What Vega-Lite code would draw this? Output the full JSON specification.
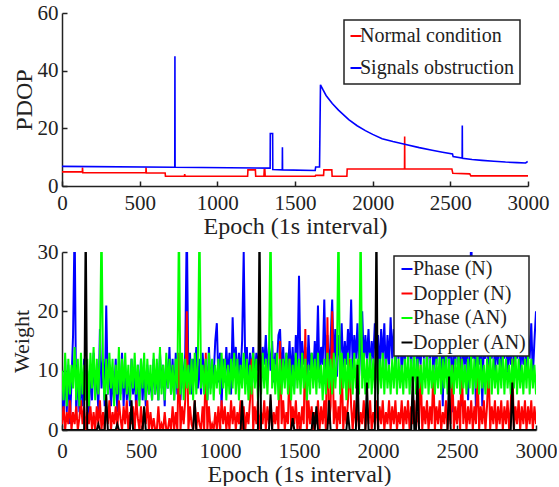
{
  "$schema": "https://vega.github.io/schema/vega-lite/v6.json",
  "padding": {"left": 10, "top": 2, "right": 0, "bottom": 0},
  "resolve": {"scale": {"color": "independent", "x": "independent", "y": "independent"}, "legend": {"color": "independent"}},
  "config": {
    "font": "Liberation Serif",
    "view": {"stroke": null},
    "concat": {"spacing": 3},
    "axis": {
      "grid": false,
      "domainColor": "#222222",
      "domainWidth": 1.5,
      "tickColor": "#222222",
      "tickWidth": 1.5,
      "tickSize": -5,
      "labelFont": "Liberation Serif",
      "labelFontSize": 21,
      "labelColor": "#222222",
      "labelFlush": false,
      "labelOverlap": false,
      "titleFont": "Liberation Serif",
      "titleFontSize": 24,
      "titleFontWeight": "normal",
      "titleColor": "#222222",
      "format": "d"
    },
    "legend": {
      "title": null,
      "symbolType": "stroke",
      "symbolSize": 121,
      "symbolStrokeWidth": 2,
      "labelFont": "Liberation Serif",
      "labelFontSize": 20,
      "labelColor": "#222222",
      "strokeColor": "#222222",
      "strokeWidth": 1.5,
      "fillColor": "white"
    }
  },
  "vconcat": [
    {
      "width": 466,
      "height": 173,
      "data": {
        "values": [
          {"e": 0, "s": "Normal condition", "v": 4.9},
          {"e": 131, "s": "Normal condition", "v": 4.9},
          {"e": 132, "s": "Normal condition", "v": 6.4},
          {"e": 134, "s": "Normal condition", "v": 4.6},
          {"e": 540, "s": "Normal condition", "v": 4.6},
          {"e": 541, "s": "Normal condition", "v": 6.4},
          {"e": 543, "s": "Normal condition", "v": 4.5},
          {"e": 664, "s": "Normal condition", "v": 4.5},
          {"e": 666, "s": "Normal condition", "v": 3.4},
          {"e": 788, "s": "Normal condition", "v": 3.4},
          {"e": 790, "s": "Normal condition", "v": 4.1},
          {"e": 792, "s": "Normal condition", "v": 3.4},
          {"e": 1195, "s": "Normal condition", "v": 3.4},
          {"e": 1197, "s": "Normal condition", "v": 5.6},
          {"e": 1245, "s": "Normal condition", "v": 5.6},
          {"e": 1247, "s": "Normal condition", "v": 3.4},
          {"e": 1300, "s": "Normal condition", "v": 3.4},
          {"e": 1302, "s": "Normal condition", "v": 5.6},
          {"e": 1306, "s": "Normal condition", "v": 5.6},
          {"e": 1308, "s": "Normal condition", "v": 3.4},
          {"e": 1630, "s": "Normal condition", "v": 3.4},
          {"e": 1633, "s": "Normal condition", "v": 3.7},
          {"e": 1684, "s": "Normal condition", "v": 3.7},
          {"e": 1686, "s": "Normal condition", "v": 5.6},
          {"e": 1737, "s": "Normal condition", "v": 5.6},
          {"e": 1739, "s": "Normal condition", "v": 3.4},
          {"e": 1834, "s": "Normal condition", "v": 3.4},
          {"e": 1836, "s": "Normal condition", "v": 5.9},
          {"e": 2205, "s": "Normal condition", "v": 5.9},
          {"e": 2206, "s": "Normal condition", "v": 17.2},
          {"e": 2207, "s": "Normal condition", "v": 5.9},
          {"e": 2510, "s": "Normal condition", "v": 5.9},
          {"e": 2516, "s": "Normal condition", "v": 4.4},
          {"e": 2625, "s": "Normal condition", "v": 4.2},
          {"e": 2632, "s": "Normal condition", "v": 3.5},
          {"e": 3000, "s": "Normal condition", "v": 3.5},
          {"e": 0, "s": "Signals obstruction", "v": 6.8},
          {"e": 726, "s": "Signals obstruction", "v": 6.5},
          {"e": 727, "s": "Signals obstruction", "v": 45},
          {"e": 728, "s": "Signals obstruction", "v": 6.5},
          {"e": 1340, "s": "Signals obstruction", "v": 6.2},
          {"e": 1341, "s": "Signals obstruction", "v": 18.2},
          {"e": 1356, "s": "Signals obstruction", "v": 18.2},
          {"e": 1357, "s": "Signals obstruction", "v": 5.7},
          {"e": 1418, "s": "Signals obstruction", "v": 5.6},
          {"e": 1419, "s": "Signals obstruction", "v": 13.4},
          {"e": 1420, "s": "Signals obstruction", "v": 5.6},
          {"e": 1630, "s": "Signals obstruction", "v": 5.4},
          {"e": 1633, "s": "Signals obstruction", "v": 6.6},
          {"e": 1658, "s": "Signals obstruction", "v": 6.6},
          {"e": 1664, "s": "Signals obstruction", "v": 35.1},
          {"e": 1680, "s": "Signals obstruction", "v": 33.4},
          {"e": 1700, "s": "Signals obstruction", "v": 31.4},
          {"e": 1740, "s": "Signals obstruction", "v": 28.6},
          {"e": 1780, "s": "Signals obstruction", "v": 26.3},
          {"e": 1846, "s": "Signals obstruction", "v": 23.0},
          {"e": 1900, "s": "Signals obstruction", "v": 20.9},
          {"e": 1953, "s": "Signals obstruction", "v": 19.2},
          {"e": 2000, "s": "Signals obstruction", "v": 17.9},
          {"e": 2061, "s": "Signals obstruction", "v": 16.4},
          {"e": 2130, "s": "Signals obstruction", "v": 15.4},
          {"e": 2206, "s": "Signals obstruction", "v": 14.5},
          {"e": 2300, "s": "Signals obstruction", "v": 13.3},
          {"e": 2383, "s": "Signals obstruction", "v": 12.4},
          {"e": 2450, "s": "Signals obstruction", "v": 11.7},
          {"e": 2514, "s": "Signals obstruction", "v": 11.1},
          {"e": 2518, "s": "Signals obstruction", "v": 10.2},
          {"e": 2576, "s": "Signals obstruction", "v": 9.7},
          {"e": 2577, "s": "Signals obstruction", "v": 21},
          {"e": 2578, "s": "Signals obstruction", "v": 9.6},
          {"e": 2640, "s": "Signals obstruction", "v": 9.2},
          {"e": 2704, "s": "Signals obstruction", "v": 8.9},
          {"e": 2780, "s": "Signals obstruction", "v": 8.6},
          {"e": 2855, "s": "Signals obstruction", "v": 8.3},
          {"e": 2930, "s": "Signals obstruction", "v": 8.1},
          {"e": 2985, "s": "Signals obstruction", "v": 8.0},
          {"e": 2998, "s": "Signals obstruction", "v": 8.5}
        ]
      },
      "mark": {"type": "line", "strokeWidth": 1.6, "clip": true},
      "encoding": {
        "x": {
          "field": "e", "type": "quantitative",
          "scale": {"domain": [0, 3000], "nice": false},
          "axis": {"values": [0, 500, 1000, 1500, 2000, 2500, 3000], "title": "Epoch (1s interval)", "labelPadding": 11, "titlePadding": 1}
        },
        "y": {
          "field": "v", "type": "quantitative",
          "scale": {"domain": [0, 60], "nice": false},
          "axis": {"values": [0, 20, 40, 60], "title": "PDOP", "labelPadding": 9, "titlePadding": 1}
        },
        "color": {
          "field": "s", "type": "nominal",
          "scale": {"domain": ["Normal condition", "Signals obstruction"], "range": ["#ff0000", "#0000ff"]},
          "legend": {"orient": "none", "legendX": 282, "legendY": 7, "padding": 6, "rowPadding": 12, "symbolOffset": -4, "labelOffset": -6}
        }
      }
    },
    {
      "width": 474,
      "height": 178,
      "data": {
        "values": [
          {"e":0,"p":9,"d":1,"g":10,"k":0},{"e":10,"p":2,"d":4,"g":5,"k":0},{"e":20,"p":12,"d":0,"g":13,"k":0},{"e":30,"p":3,"d":3,"g":4,"k":0},{"e":40,"p":11,"d":1,"g":12,"k":0},
          {"e":50,"p":1,"d":5,"g":6,"k":0},{"e":60,"p":8,"d":0,"g":11,"k":0},{"e":70,"p":16,"d":3,"g":7,"k":0},{"e":80,"p":35,"d":1,"g":14,"k":0},{"e":90,"p":2,"d":4,"g":5,"k":0},
          {"e":100,"p":11,"d":0,"g":12,"k":0},{"e":110,"p":3,"d":2,"g":4,"k":0},{"e":120,"p":9,"d":5,"g":13,"k":0},{"e":130,"p":4,"d":1,"g":6,"k":0},{"e":140,"p":12,"d":4,"g":11,"k":0},
          {"e":150,"p":6,"d":0,"g":5,"k":35},{"e":160,"p":10,"d":3,"g":12,"k":0},{"e":170,"p":2,"d":1,"g":4,"k":0},{"e":180,"p":11,"d":4,"g":13,"k":0},{"e":190,"p":5,"d":0,"g":7,"k":0},
          {"e":200,"p":13,"d":3,"g":14,"k":0},{"e":210,"p":6,"d":0,"g":5,"k":0},{"e":220,"p":10,"d":4,"g":12,"k":0},{"e":230,"p":3,"d":1,"g":6,"k":1},{"e":240,"p":17,"d":5,"g":13,"k":0},
          {"e":250,"p":7,"d":0,"g":35,"k":0},{"e":260,"p":12,"d":3,"g":9,"k":0},{"e":270,"p":4,"d":0,"g":5,"k":0},{"e":280,"p":21,"d":4,"g":12,"k":6},{"e":290,"p":6,"d":1,"g":6,"k":0},
          {"e":300,"p":11,"d":5,"g":13,"k":0},{"e":310,"p":4,"d":0,"g":7,"k":0},{"e":320,"p":9,"d":3,"g":12,"k":0},{"e":330,"p":5,"d":1,"g":4,"k":0},{"e":340,"p":12,"d":4,"g":11,"k":0},
          {"e":350,"p":3,"d":0,"g":6,"k":1},{"e":360,"p":10,"d":5,"g":14,"k":0},{"e":370,"p":6,"d":2,"g":5,"k":0},{"e":380,"p":13,"d":0,"g":12,"k":0},{"e":390,"p":4,"d":4,"g":7,"k":0},
          {"e":400,"p":11,"d":1,"g":13,"k":0},{"e":410,"p":5,"d":5,"g":6,"k":0},{"e":420,"p":9,"d":0,"g":11,"k":0},{"e":430,"p":4,"d":3,"g":5,"k":0},{"e":440,"p":12,"d":1,"g":12,"k":5},
          {"e":450,"p":6,"d":4,"g":7,"k":0},{"e":460,"p":10,"d":0,"g":13,"k":0},{"e":470,"p":3,"d":5,"g":6,"k":0},{"e":480,"p":11,"d":2,"g":11,"k":0},{"e":490,"p":5,"d":0,"g":4,"k":0},
          {"e":500,"p":12,"d":4,"g":12,"k":0},{"e":510,"p":5,"d":0,"g":7,"k":0},{"e":520,"p":10,"d":3,"g":13,"k":4},{"e":530,"p":4,"d":1,"g":5,"k":0},{"e":540,"p":11,"d":5,"g":12,"k":0},
          {"e":550,"p":6,"d":0,"g":6,"k":0},{"e":560,"p":9,"d":3,"g":11,"k":0},{"e":570,"p":5,"d":0,"g":5,"k":0},{"e":580,"p":12,"d":2,"g":13,"k":0},{"e":590,"p":6,"d":0,"g":6,"k":0},
          {"e":600,"p":10,"d":0,"g":12,"k":0},{"e":610,"p":5,"d":4,"g":5,"k":0},{"e":620,"p":13,"d":0,"g":14,"k":0},{"e":630,"p":7,"d":1,"g":6,"k":0},{"e":640,"p":11,"d":0,"g":11,"k":0},
          {"e":650,"p":4,"d":3,"g":5,"k":0},{"e":660,"p":12,"d":0,"g":13,"k":0},{"e":670,"p":7,"d":0,"g":7,"k":0},{"e":680,"p":14,"d":2,"g":12,"k":0},{"e":690,"p":6,"d":0,"g":6,"k":0},
          {"e":700,"p":12,"d":4,"g":11,"k":0},{"e":710,"p":5,"d":0,"g":5,"k":0},{"e":720,"p":13,"d":3,"g":12,"k":0},{"e":730,"p":6,"d":0,"g":7,"k":0},{"e":740,"p":11,"d":13,"g":35,"k":0},
          {"e":750,"p":5,"d":0,"g":6,"k":0},{"e":760,"p":12,"d":4,"g":13,"k":0},{"e":770,"p":7,"d":1,"g":5,"k":0},{"e":780,"p":13,"d":5,"g":12,"k":0},{"e":790,"p":35,"d":20,"g":7,"k":0},
          {"e":800,"p":8,"d":0,"g":11,"k":0},{"e":810,"p":13,"d":4,"g":6,"k":0},{"e":820,"p":6,"d":1,"g":12,"k":0},{"e":830,"p":12,"d":0,"g":5,"k":0},{"e":840,"p":9,"d":5,"g":13,"k":5},
          {"e":850,"p":14,"d":0,"g":6,"k":0},{"e":860,"p":7,"d":3,"g":12,"k":0},{"e":870,"p":12,"d":1,"g":35,"k":0},{"e":880,"p":6,"d":0,"g":7,"k":0},{"e":890,"p":13,"d":4,"g":11,"k":0},
          {"e":900,"p":8,"d":0,"g":6,"k":0},{"e":910,"p":12,"d":13,"g":12,"k":0},{"e":920,"p":5,"d":0,"g":5,"k":0},{"e":930,"p":14,"d":4,"g":13,"k":0},{"e":940,"p":7,"d":0,"g":6,"k":0},
          {"e":950,"p":11,"d":1,"g":12,"k":0},{"e":960,"p":9,"d":0,"g":5,"k":0},{"e":970,"p":15,"d":3,"g":11,"k":0},{"e":980,"p":18,"d":0,"g":7,"k":0},{"e":990,"p":8,"d":4,"g":12,"k":0},
          {"e":1000,"p":13,"d":0,"g":6,"k":0},{"e":1010,"p":4,"d":5,"g":13,"k":0},{"e":1020,"p":12,"d":1,"g":7,"k":0},{"e":1030,"p":8,"d":4,"g":12,"k":0},{"e":1040,"p":14,"d":0,"g":5,"k":0},
          {"e":1050,"p":9,"d":3,"g":11,"k":0},{"e":1060,"p":13,"d":0,"g":6,"k":0},{"e":1070,"p":6,"d":5,"g":12,"k":0},{"e":1080,"p":19,"d":1,"g":7,"k":0},{"e":1090,"p":10,"d":4,"g":13,"k":0},
          {"e":1100,"p":14,"d":0,"g":6,"k":0},{"e":1110,"p":8,"d":3,"g":12,"k":0},{"e":1120,"p":13,"d":1,"g":5,"k":0},{"e":1130,"p":9,"d":5,"g":11,"k":0},{"e":1140,"p":15,"d":0,"g":7,"k":5},
          {"e":1150,"p":30,"d":4,"g":13,"k":0},{"e":1160,"p":10,"d":0,"g":6,"k":0},{"e":1170,"p":14,"d":3,"g":12,"k":0},{"e":1180,"p":7,"d":1,"g":5,"k":0},{"e":1190,"p":13,"d":5,"g":11,"k":0},
          {"e":1200,"p":9,"d":12,"g":6,"k":0},{"e":1210,"p":14,"d":0,"g":13,"k":0},{"e":1220,"p":8,"d":4,"g":7,"k":0},{"e":1230,"p":13,"d":1,"g":12,"k":0},{"e":1240,"p":10,"d":5,"g":5,"k":0},
          {"e":1250,"p":15,"d":0,"g":11,"k":35},{"e":1260,"p":8,"d":3,"g":6,"k":0},{"e":1270,"p":14,"d":1,"g":13,"k":0},{"e":1280,"p":11,"d":5,"g":7,"k":0},{"e":1290,"p":16,"d":0,"g":12,"k":0},
          {"e":1300,"p":9,"d":4,"g":6,"k":0},{"e":1310,"p":14,"d":1,"g":13,"k":0},{"e":1320,"p":10,"d":5,"g":35,"k":6},{"e":1330,"p":15,"d":0,"g":7,"k":0},{"e":1340,"p":8,"d":3,"g":12,"k":0},
          {"e":1350,"p":13,"d":1,"g":6,"k":0},{"e":1360,"p":11,"d":4,"g":13,"k":0},{"e":1370,"p":16,"d":0,"g":5,"k":0},{"e":1380,"p":17,"d":15,"g":12,"k":0},{"e":1390,"p":9,"d":1,"g":6,"k":0},
          {"e":1400,"p":14,"d":5,"g":12,"k":0},{"e":1410,"p":8,"d":0,"g":7,"k":0},{"e":1420,"p":13,"d":3,"g":13,"k":0},{"e":1430,"p":10,"d":1,"g":6,"k":0},{"e":1440,"p":15,"d":12,"g":12,"k":0},
          {"e":1450,"p":9,"d":0,"g":5,"k":0},{"e":1460,"p":14,"d":4,"g":11,"k":2},{"e":1470,"p":7,"d":1,"g":6,"k":0},{"e":1480,"p":16,"d":5,"g":13,"k":0},{"e":1490,"p":10,"d":0,"g":7,"k":0},
          {"e":1500,"p":26,"d":3,"g":12,"k":0},{"e":1510,"p":9,"d":0,"g":6,"k":0},{"e":1520,"p":15,"d":4,"g":13,"k":0},{"e":1530,"p":11,"d":1,"g":7,"k":0},{"e":1540,"p":14,"d":17,"g":12,"k":0},
          {"e":1550,"p":8,"d":0,"g":5,"k":0},{"e":1560,"p":16,"d":5,"g":11,"k":0},{"e":1570,"p":10,"d":1,"g":6,"k":0},{"e":1580,"p":13,"d":4,"g":13,"k":0},{"e":1590,"p":9,"d":0,"g":7,"k":3},
          {"e":1600,"p":15,"d":3,"g":12,"k":0},{"e":1610,"p":10,"d":1,"g":6,"k":4},{"e":1620,"p":21,"d":5,"g":13,"k":0},{"e":1630,"p":8,"d":0,"g":7,"k":0},{"e":1640,"p":14,"d":4,"g":11,"k":0},
          {"e":1650,"p":11,"d":1,"g":5,"k":0},{"e":1660,"p":22,"d":5,"g":12,"k":0},{"e":1670,"p":9,"d":0,"g":6,"k":0},{"e":1680,"p":16,"d":19,"g":13,"k":0},{"e":1690,"p":10,"d":1,"g":7,"k":5},
          {"e":1700,"p":15,"d":4,"g":12,"k":0},{"e":1710,"p":22,"d":20,"g":6,"k":0},{"e":1720,"p":11,"d":1,"g":13,"k":0},{"e":1730,"p":17,"d":5,"g":7,"k":0},{"e":1740,"p":9,"d":0,"g":12,"k":0},
          {"e":1750,"p":16,"d":4,"g":35,"k":0},{"e":1760,"p":12,"d":1,"g":6,"k":0},{"e":1770,"p":18,"d":12,"g":13,"k":0},{"e":1780,"p":10,"d":0,"g":7,"k":0},{"e":1790,"p":15,"d":4,"g":12,"k":0},
          {"e":1800,"p":11,"d":1,"g":5,"k":0},{"e":1810,"p":17,"d":5,"g":13,"k":3},{"e":1820,"p":12,"d":12,"g":7,"k":0},{"e":1830,"p":22,"d":4,"g":12,"k":0},{"e":1840,"p":10,"d":0,"g":6,"k":0},
          {"e":1850,"p":16,"d":5,"g":13,"k":0},{"e":1860,"p":12,"d":1,"g":7,"k":0},{"e":1870,"p":18,"d":4,"g":12,"k":11},{"e":1880,"p":9,"d":0,"g":6,"k":0},{"e":1890,"p":15,"d":3,"g":35,"k":0},
          {"e":1900,"p":20,"d":1,"g":7,"k":0},{"e":1910,"p":11,"d":5,"g":13,"k":0},{"e":1920,"p":16,"d":0,"g":6,"k":0},{"e":1930,"p":12,"d":4,"g":12,"k":8},{"e":1940,"p":17,"d":1,"g":7,"k":0},
          {"e":1950,"p":10,"d":5,"g":13,"k":0},{"e":1960,"p":15,"d":0,"g":6,"k":0},{"e":1970,"p":12,"d":3,"g":12,"k":0},{"e":1980,"p":18,"d":1,"g":7,"k":0},{"e":1990,"p":11,"d":5,"g":13,"k":35},
          {"e":2000,"p":16,"d":0,"g":6,"k":0},{"e":2010,"p":10,"d":4,"g":12,"k":0},{"e":2020,"p":17,"d":1,"g":7,"k":0},{"e":2030,"p":12,"d":5,"g":13,"k":0},{"e":2040,"p":18,"d":0,"g":6,"k":0},
          {"e":2050,"p":9,"d":3,"g":12,"k":0},{"e":2060,"p":16,"d":1,"g":7,"k":0},{"e":2070,"p":11,"d":5,"g":11,"k":0},{"e":2080,"p":19,"d":0,"g":6,"k":0},{"e":2090,"p":12,"d":4,"g":12,"k":0},
          {"e":2100,"p":17,"d":1,"g":7,"k":0},{"e":2110,"p":10,"d":5,"g":13,"k":0},{"e":2120,"p":15,"d":0,"g":6,"k":0},{"e":2130,"p":12,"d":3,"g":12,"k":0},{"e":2140,"p":18,"d":1,"g":7,"k":0},
          {"e":2150,"p":9,"d":5,"g":11,"k":0},{"e":2160,"p":16,"d":0,"g":6,"k":0},{"e":2170,"p":11,"d":4,"g":12,"k":0},{"e":2180,"p":19,"d":1,"g":7,"k":0},{"e":2190,"p":12,"d":5,"g":13,"k":0},
          {"e":2200,"p":16,"d":0,"g":6,"k":0},{"e":2210,"p":10,"d":4,"g":12,"k":0},{"e":2220,"p":17,"d":1,"g":7,"k":9},{"e":2230,"p":12,"d":5,"g":13,"k":0},{"e":2240,"p":18,"d":0,"g":6,"k":0},
          {"e":2250,"p":9,"d":3,"g":12,"k":9},{"e":2260,"p":15,"d":1,"g":7,"k":0},{"e":2270,"p":11,"d":11,"g":11,"k":0},{"e":2280,"p":17,"d":0,"g":6,"k":0},{"e":2290,"p":12,"d":4,"g":12,"k":0},
          {"e":2300,"p":18,"d":1,"g":7,"k":0},{"e":2310,"p":10,"d":5,"g":13,"k":0},{"e":2320,"p":16,"d":0,"g":6,"k":0},{"e":2330,"p":12,"d":4,"g":12,"k":0},{"e":2340,"p":19,"d":1,"g":7,"k":0},
          {"e":2350,"p":9,"d":10,"g":11,"k":0},{"e":2360,"p":15,"d":0,"g":6,"k":0},{"e":2370,"p":11,"d":4,"g":12,"k":0},{"e":2380,"p":17,"d":1,"g":7,"k":0},{"e":2390,"p":13,"d":5,"g":13,"k":0},
          {"e":2400,"p":16,"d":0,"g":6,"k":0},{"e":2410,"p":4,"d":3,"g":12,"k":0},{"e":2420,"p":18,"d":1,"g":7,"k":0},{"e":2430,"p":10,"d":5,"g":13,"k":0},{"e":2440,"p":15,"d":0,"g":6,"k":0},
          {"e":2450,"p":12,"d":4,"g":12,"k":9},{"e":2460,"p":17,"d":1,"g":7,"k":0},{"e":2470,"p":3,"d":11,"g":11,"k":0},{"e":2480,"p":16,"d":0,"g":6,"k":0},{"e":2490,"p":11,"d":4,"g":12,"k":0},
          {"e":2500,"p":18,"d":1,"g":7,"k":0},{"e":2510,"p":9,"d":5,"g":13,"k":0},{"e":2520,"p":15,"d":0,"g":6,"k":0},{"e":2530,"p":4,"d":12,"g":12,"k":0},{"e":2540,"p":17,"d":1,"g":7,"k":0},
          {"e":2550,"p":11,"d":5,"g":11,"k":0},{"e":2560,"p":16,"d":0,"g":6,"k":0},{"e":2570,"p":5,"d":4,"g":12,"k":0},{"e":2580,"p":14,"d":1,"g":7,"k":0},{"e":2590,"p":35,"d":5,"g":13,"k":0},
          {"e":2600,"p":12,"d":0,"g":6,"k":0},{"e":2610,"p":17,"d":4,"g":12,"k":0},{"e":2620,"p":3,"d":1,"g":7,"k":0},{"e":2630,"p":16,"d":10,"g":13,"k":0},{"e":2640,"p":11,"d":0,"g":6,"k":0},
          {"e":2650,"p":18,"d":4,"g":12,"k":0},{"e":2660,"p":4,"d":1,"g":7,"k":0},{"e":2670,"p":15,"d":5,"g":11,"k":0},{"e":2680,"p":12,"d":0,"g":6,"k":0},{"e":2690,"p":17,"d":4,"g":12,"k":0},
          {"e":2700,"p":10,"d":11,"g":7,"k":0},{"e":2710,"p":16,"d":0,"g":13,"k":0},{"e":2720,"p":12,"d":4,"g":6,"k":0},{"e":2730,"p":18,"d":1,"g":12,"k":0},{"e":2740,"p":9,"d":5,"g":7,"k":0},
          {"e":2750,"p":15,"d":0,"g":11,"k":0},{"e":2760,"p":11,"d":4,"g":6,"k":0},{"e":2770,"p":17,"d":1,"g":12,"k":0},{"e":2780,"p":10,"d":5,"g":7,"k":0},{"e":2790,"p":16,"d":0,"g":13,"k":0},
          {"e":2800,"p":12,"d":4,"g":6,"k":0},{"e":2810,"p":18,"d":1,"g":12,"k":0},{"e":2820,"p":9,"d":5,"g":7,"k":0},{"e":2830,"p":15,"d":0,"g":11,"k":0},{"e":2840,"p":11,"d":4,"g":6,"k":0},
          {"e":2850,"p":17,"d":12,"g":12,"k":8},{"e":2860,"p":10,"d":0,"g":7,"k":0},{"e":2870,"p":16,"d":4,"g":13,"k":0},{"e":2880,"p":12,"d":1,"g":6,"k":0},{"e":2890,"p":18,"d":5,"g":12,"k":0},
          {"e":2900,"p":9,"d":0,"g":7,"k":0},{"e":2910,"p":15,"d":4,"g":11,"k":0},{"e":2920,"p":11,"d":1,"g":6,"k":0},{"e":2930,"p":17,"d":5,"g":12,"k":0},{"e":2940,"p":10,"d":0,"g":7,"k":0},
          {"e":2950,"p":16,"d":4,"g":13,"k":0},{"e":2960,"p":12,"d":1,"g":6,"k":0},{"e":2970,"p":18,"d":5,"g":12,"k":0},{"e":2980,"p":9,"d":0,"g":7,"k":0},{"e":2990,"p":15,"d":4,"g":11,"k":0},
          {"e":3000,"p":20,"d":1,"g":6,"k":0}
        ]
      },
      "transform": [{"fold": ["p", "d", "g", "k"], "as": ["s", "w"]}],
      "mark": {"type": "line", "strokeWidth": 2, "clip": true},
      "encoding": {
        "x": {
          "field": "e", "type": "quantitative",
          "scale": {"domain": [0, 3000], "nice": false},
          "axis": {"values": [0, 500, 1000, 1500, 2000, 2500, 3000], "title": "Epoch (1s interval)", "labelPadding": 15, "titlePadding": 1}
        },
        "y": {
          "field": "w", "type": "quantitative",
          "scale": {"domain": [0, 30], "nice": false},
          "axis": {"values": [0, 10, 20, 30], "title": "Weight", "titleFontSize": 22, "labelPadding": 9, "titlePadding": 4}
        },
        "color": {
          "field": "s", "type": "nominal",
          "scale": {"domain": ["p", "d", "g", "k"], "range": ["#0000ff", "#ff0000", "#00ff00", "#000000"]},
          "legend": {
            "orient": "none", "legendX": 332, "legendY": 4, "padding": 3, "rowPadding": 4.5, "labelOffset": -4,
            "labelExpr": "datum.label == 'p' ? 'Phase (N)' : datum.label == 'd' ? 'Doppler (N)' : datum.label == 'g' ? 'Phase (AN)' : 'Doppler (AN)'"
          }
        }
      }
    }
  ]
}
